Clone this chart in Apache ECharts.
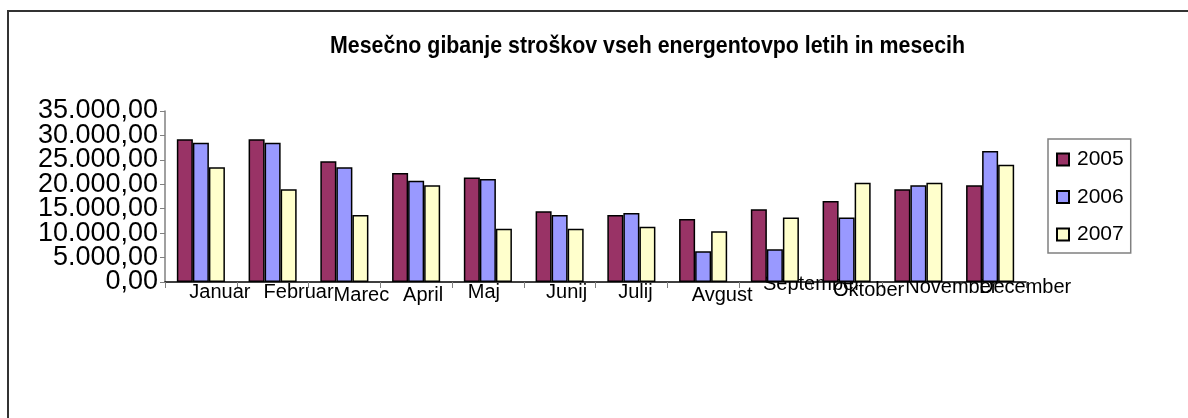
<!DOCTYPE html>
<html>
<head>
<meta charset="utf-8">
<script src="https://cdn.jsdelivr.net/npm/echarts@6/dist/echarts.min.js"></script>
<style>
  html, body { margin: 0; padding: 0; background: #fff; }
  #main { width: 1188px; height: 418px; }
</style>
</head>
<body>
<div id="main"></div>
<script>
// podatki
var months = ['Januar', 'Februar', 'Marec', 'April', 'Maj', 'Junij', 'Julij', 'Avgust', 'September', 'Oktober', 'November', 'December'];
var years = ['2005', '2006', '2007'];
var costs2005 = [29200, 29200, 24700, 22300, 21400, 14500, 13700, 12900, 14900, 16600, 19000, 19800];
var costs2006 = [28500, 28500, 23500, 20700, 21100, 13700, 14100, 6300, 6700, 13200, 19800, 26800];
var costs2007 = [23500, 19000, 13700, 19800, 10900, 10900, 11300, 10400, 13200, 20300, 20300, 24000];
var yTicks = [0, 5000, 10000, 15000, 20000, 25000, 30000, 35000];
var titleText = 'Mesečno gibanje stroškov vseh energentovpo letih in mesecih';

var chartDom = document.getElementById('main');
var myChart = echarts.init(chartDom);

var font = "'Liberation Sans', Arial, sans-serif";

// 35000 -> 35.000,00
function fmt(v) {
    var s = String(Math.round(v));
    var out = '';
    while (s.length > 3) {
        out = '.' + s.slice(-3) + out;
        s = s.slice(0, -3);
    }
    return s + out + ',00';
}

// zamiki oznak meseca (kot v originalu, nekoliko razmetane)
var nudge = [[10, 19], [10, 26], [13, 17], [13, 7], [10, -4], [10, 7], [10, 4], [13, 19], [2, 37], [8, 22], [5, 33], [5, 35]];
var rich = {};
nudge.forEach(function (n, i) {
    var dx = n[1];
    rich['m' + i] = {
        fontSize: 20,
        fontFamily: font,
        color: '#000',
        padding: [n[0], dx < 0 ? -2 * dx : 0, 0, dx > 0 ? 2 * dx : 0]
    };
});

function bar(name, data, color) {
    return {
        name: name,
        type: 'bar',
        data: data,
        barGap: '0%',
        barCategoryGap: '33%',
        itemStyle: { color: color, borderColor: '#000', borderWidth: 1.5 }
    };
}

var option = {
    animation: false,
    backgroundColor: '#fff',
    legend: {
        orient: 'vertical',
        left: 1048,
        top: 139,
        padding: [10, 7, 8, 8],
        itemWidth: 12,
        itemHeight: 12,
        itemGap: 16.5,
        borderColor: '#808080',
        borderWidth: 1.5,
        icon: 'rect',
        data: years,
        textStyle: { fontFamily: font, fontSize: 21, color: '#000', padding: [0, 0, 0, 3] }
    },
    graphic: [{
        type: 'rect',
        shape: { x: 8, y: 11, width: 1400, height: 600 },
        style: { fill: 'none', stroke: '#333', lineWidth: 2 },
        silent: true
    }, {
        // naslov, ozka pisava kot v originalu
        type: 'text',
        x: 330,
        y: 34,
        scaleX: 0.89,
        style: {
            text: titleText,
            fontFamily: font,
            fontSize: 24,
            fontWeight: 'bold',
            fill: '#000'
        },
        silent: true
    }],
    grid: { left: 165, right: 162, top: 111, bottom: 136 },
    xAxis: {
        type: 'category',
        data: months,
        axisLine: { lineStyle: { color: '#000', width: 1.5 } },
        axisTick: { show: true, length: 6, lineStyle: { color: '#808080' } },
        axisLabel: {
            interval: 0,
            margin: -10,
            formatter: function (v, i) { return '{m' + i + '|' + v + '}'; },
            rich: rich
        }
    },
    yAxis: [{
        type: 'value',
        min: yTicks[0],
        max: yTicks[yTicks.length - 1],
        interval: yTicks[1] - yTicks[0],
        splitLine: { show: false },
        axisLine: { show: true, lineStyle: { color: '#808080', width: 1.5 } },
        axisTick: { show: true, length: 5, lineStyle: { color: '#808080' } },
        axisLabel: { show: false }
    }, {
        // oznake osi (gosto zložene, zato posebej, da se ne skrijejo)
        type: 'category',
        position: 'left',
        data: yTicks.map(fmt),
        boundaryGap: false,
        axisLine: { show: false },
        axisTick: { show: false },
        splitLine: { show: false },
        axisLabel: {
            interval: 0,
            margin: 7,
            fontFamily: font,
            fontSize: 27,
            color: '#000'
        }
    }],
    series: [
        bar(years[0], costs2005, '#993366'),
        bar(years[1], costs2006, '#9999FF'),
        bar(years[2], costs2007, '#FFFFCC')
    ]
};

myChart.setOption(option);
</script>
</body>
</html>
